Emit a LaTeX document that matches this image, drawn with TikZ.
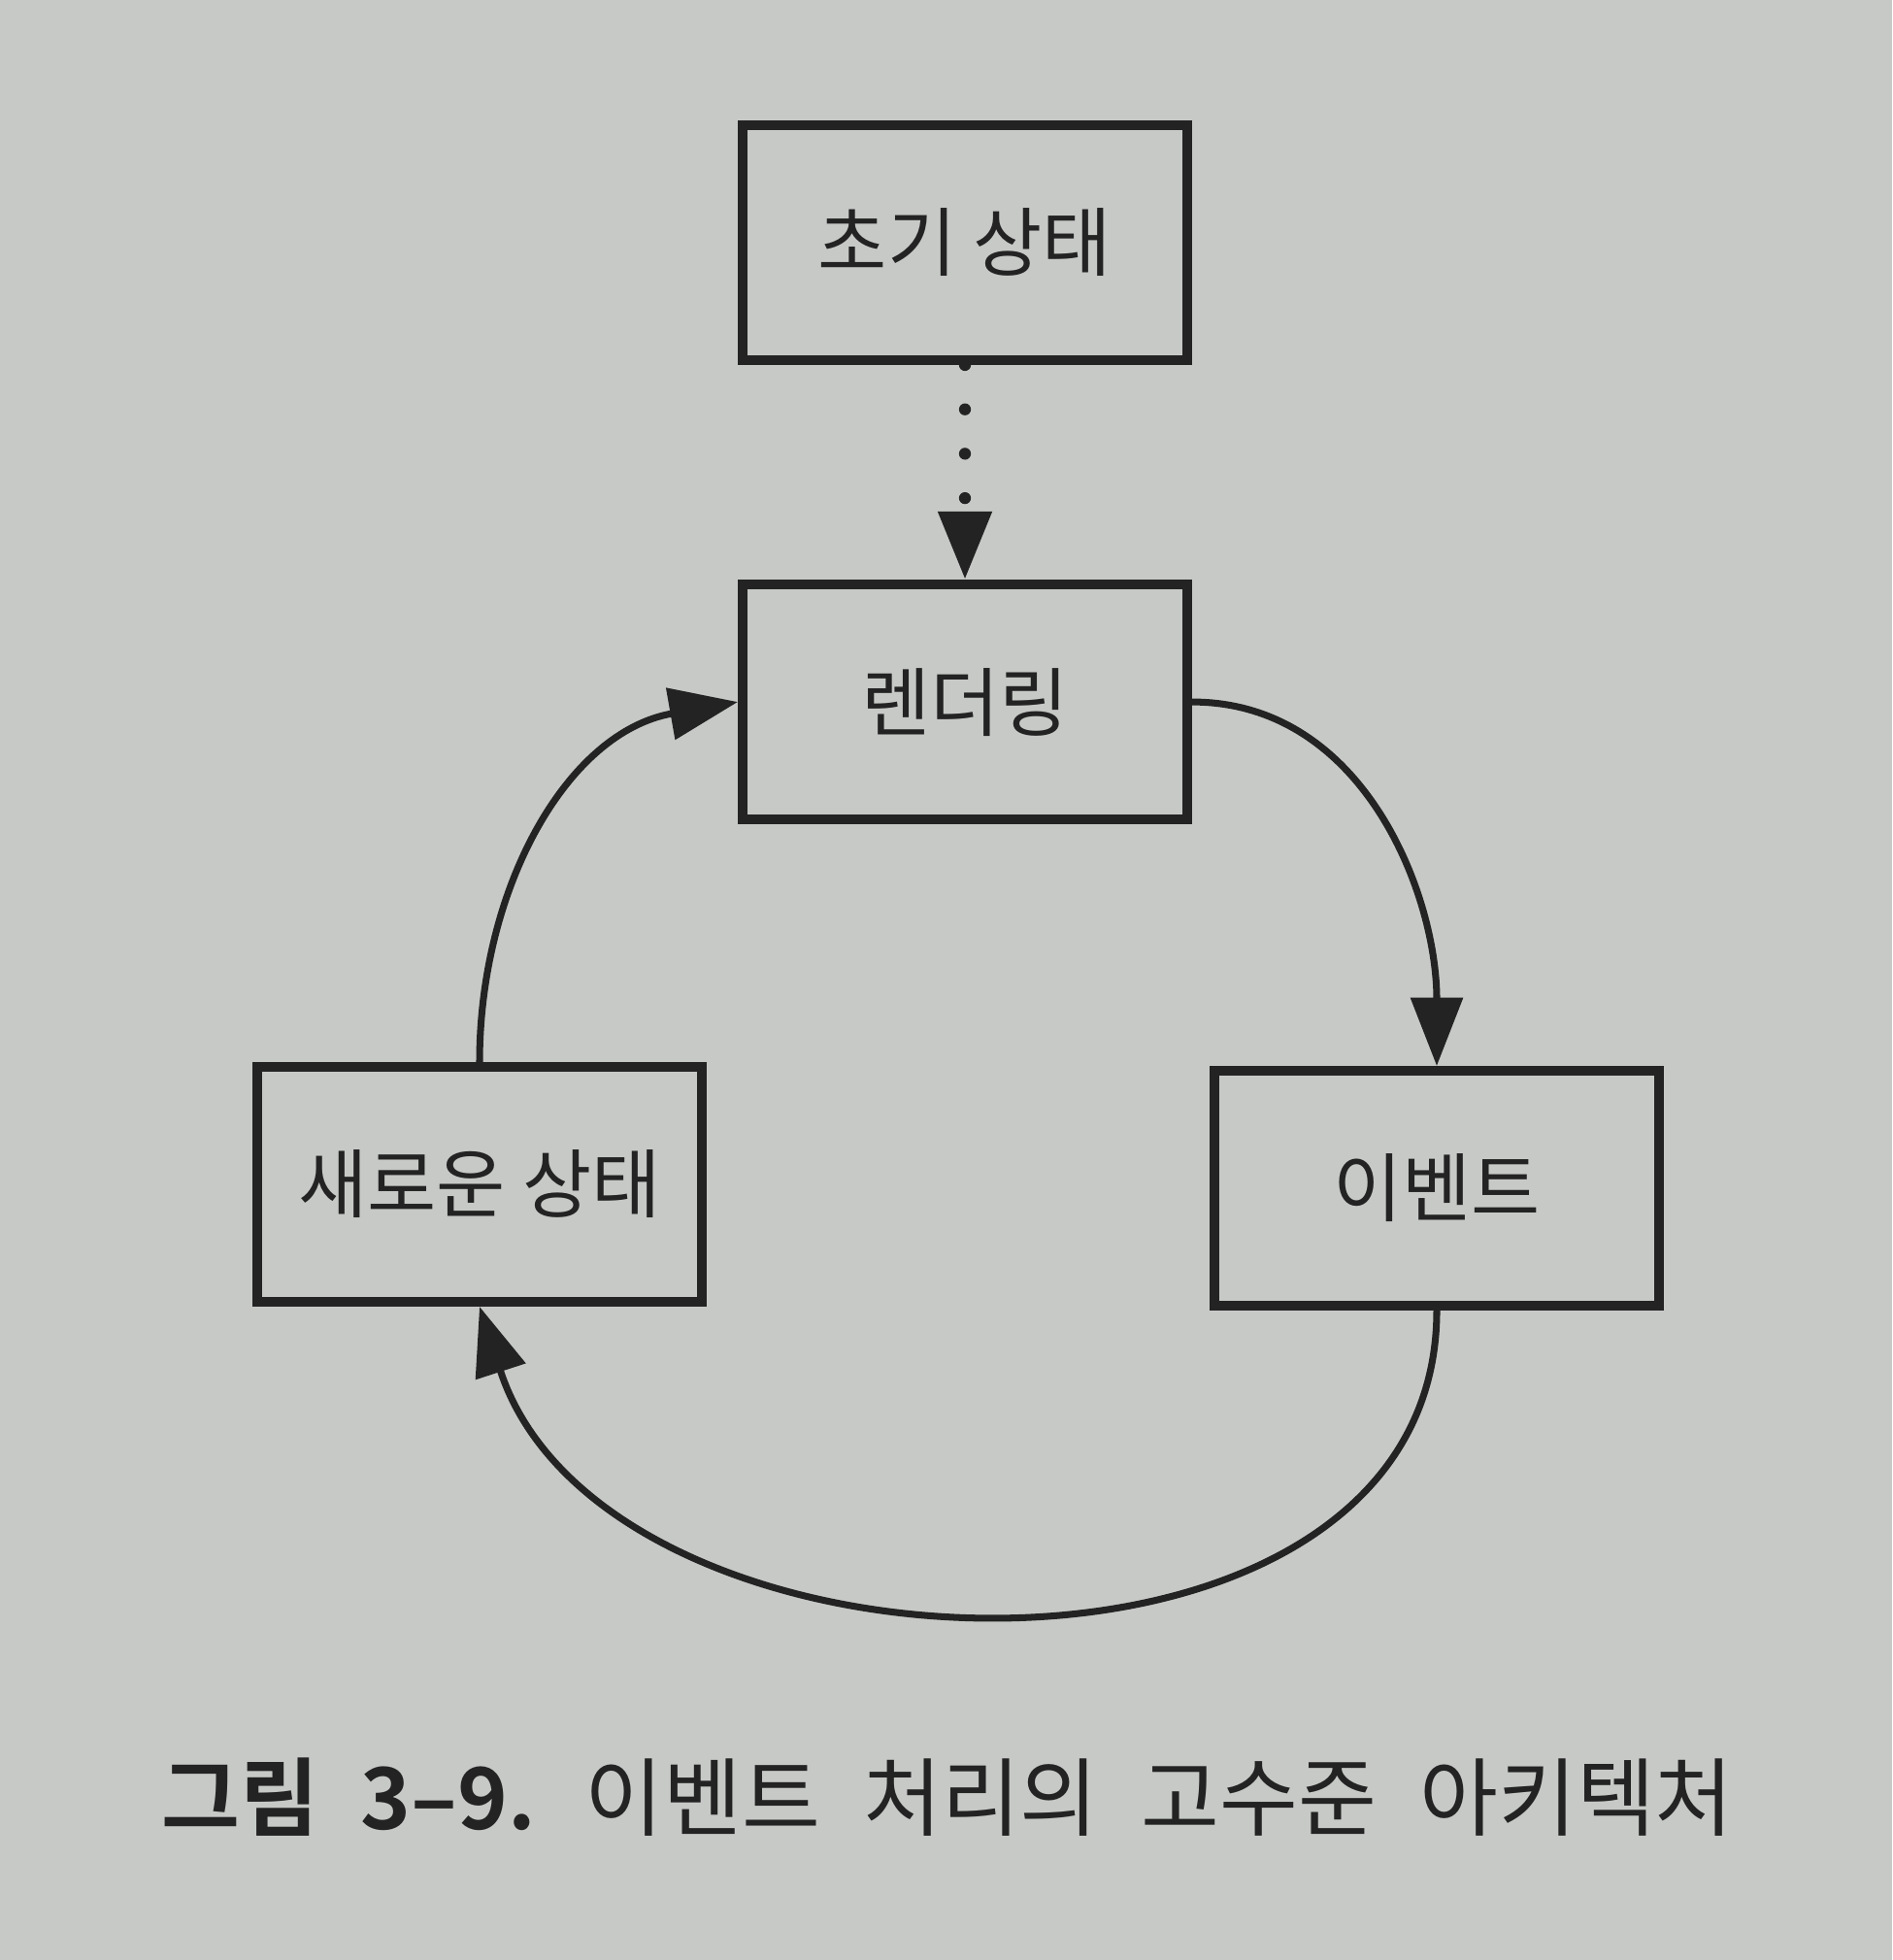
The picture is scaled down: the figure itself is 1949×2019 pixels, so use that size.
\documentclass[tikz,border=0pt]{standalone}
\usepackage{fontspec}
\newfontfamily\kr{Noto Sans CJK KR}[BoldFont={Noto Sans CJK KR Bold}]
\usetikzlibrary{positioning}
\usetikzlibrary{arrows.meta}
\definecolor{paper}{HTML}{C6C9C6}
\definecolor{ink}{HTML}{232323}
\tikzset{
  statebox/.style={draw=ink, line width=2.8pt, minimum width=4.58cm, minimum height=2.42cm,
    inner sep=0pt, text=ink, font=\kr\fontsize{22}{26}\selectfont},
  flow/.style={draw=ink, line width=2pt, -{Triangle[length=20pt,width=15pt]}},
}
\begin{document}
\begin{tikzpicture}[x=0.01cm, y=0.01cm]
% paper
\fill[paper] (0,0) rectangle (1949,2019);
\useasboundingbox (0,0) rectangle (1949,2019);
% states
\node[statebox] (init) at (994,1769) {초기 상태};
\node[statebox, below=2.21cm of init] (render) {렌더링};
\node[statebox] (newstate) at (494,799) {새로운 상태};
\node[statebox] (event) at (1480,795) {이벤트};
% loop
\draw[flow, line width=3.5pt, line cap=round, dash pattern=on 0pt off 13pt] (init) -- (render);
\draw[flow] (render.east) to[out=0, in=90] (event.north);
\draw[flow] (event.south) to[out=-90, in=-72, looseness=1.1] (newstate.south);
\draw[flow] (newstate.north) to[out=90, in=190] (render.west);
% caption
\node[text=ink, font=\kr\fontsize{25}{30}\selectfont] (caption) at (976,168)
  {\spaceskip=0.5em \textbf{그림 3–9.} 이벤트 처리의 고수준 아키텍처};
\end{tikzpicture}
\end{document}
